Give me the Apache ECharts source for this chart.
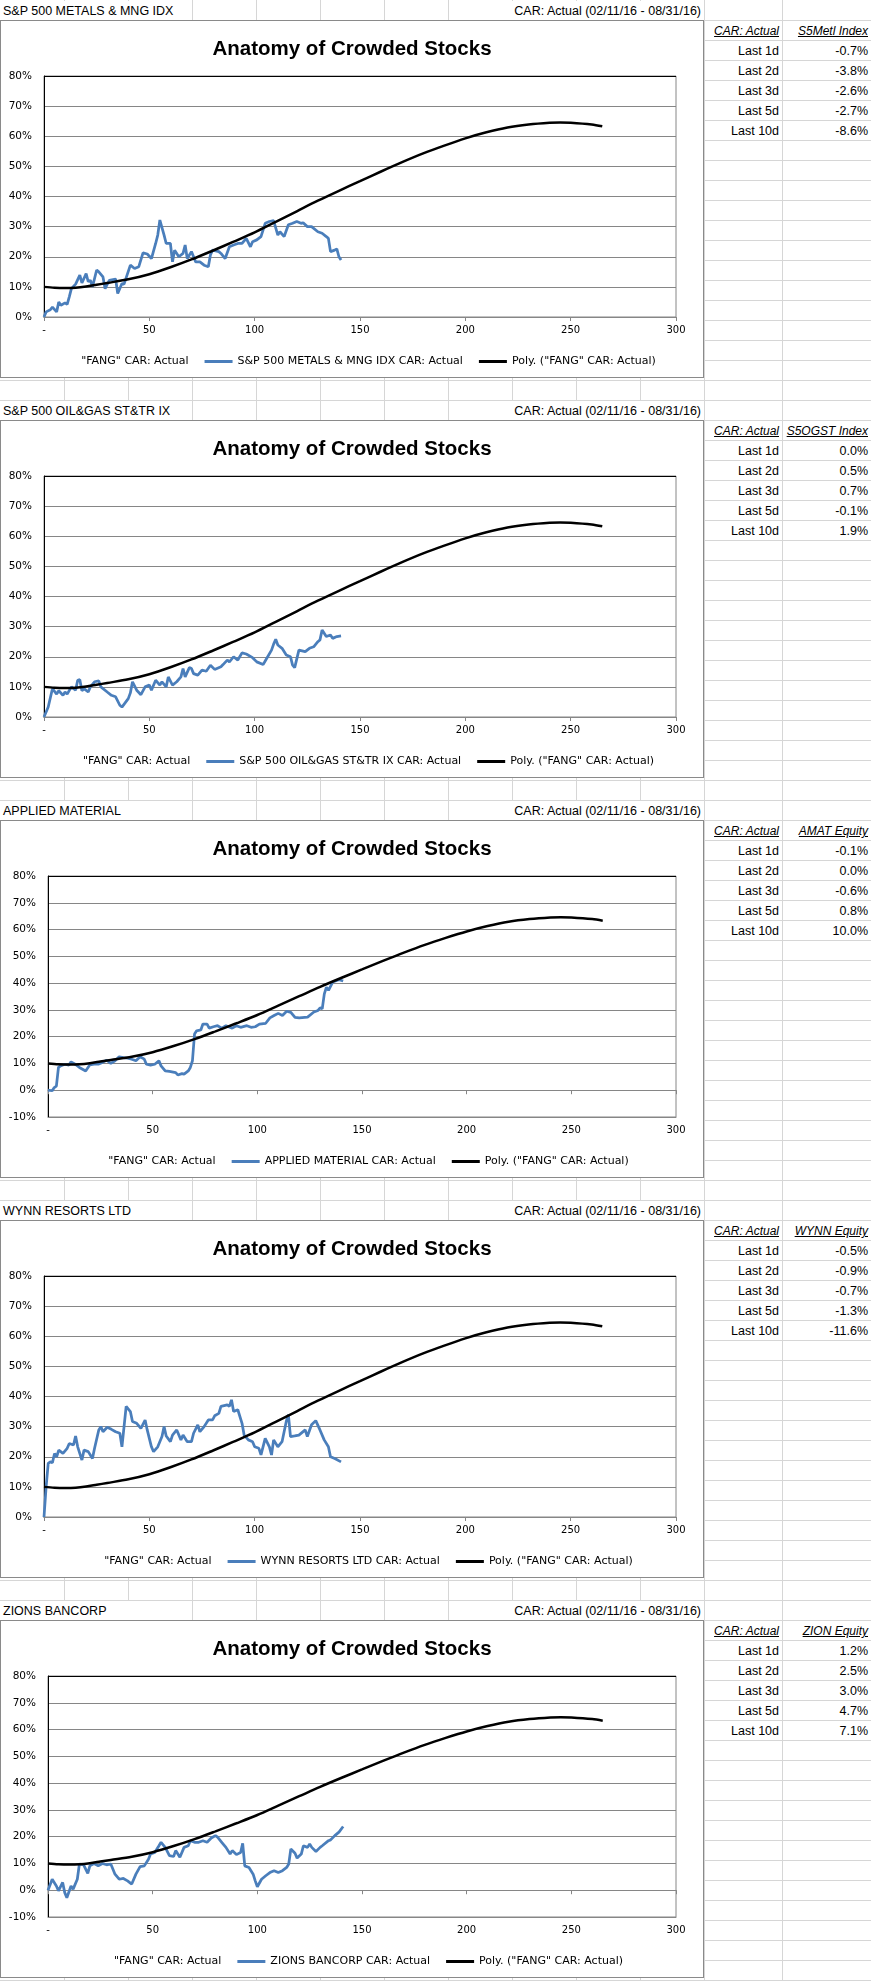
<!DOCTYPE html>
<html>
<head>
<meta charset="utf-8">
<title>Anatomy of Crowded Stocks</title>
<script src="https://cdn.jsdelivr.net/npm/echarts@6.0.0/dist/echarts.min.js"></script>
<style>
  body { margin: 0; background: #fff; }
  #sheet { position: relative; width: 871px; height: 1981px; overflow: hidden;
           font-family: "Liberation Sans", Arial, sans-serif; font-size: 12.5px; color: #000; }
  .gl { position: absolute; background: #d6d6d6; }
  .cell { position: absolute; height: 19px; line-height: 21px; white-space: nowrap; }
  .hdr { background: #fff; }
  .chart { position: absolute; left: 0; width: 704px; height: 358px; box-sizing: border-box;
           border: 1px solid #8a8a8a; background: #fff; }
</style>
</head>
<body>
<div id="sheet"></div>
<script>
// ---- data ----
const chartTitle = 'Anatomy of Crowded Stocks';
const periodText = 'CAR: Actual (02/11/16 - 08/31/16)';
const fangName = '"FANG" CAR: Actual';
const polyName = 'Poly. ("FANG" CAR: Actual)';
const xTickLabels = ['-', '50', '100', '150', '200', '250', '300'];
const lastLabels = ['Last 1d', 'Last 2d', 'Last 3d', 'Last 5d', 'Last 10d'];

const names = ['S&P 500 METALS & MNG IDX', 'S&P 500 OIL&GAS ST&TR IX', 'APPLIED MATERIAL', 'WYNN RESORTS LTD', 'ZIONS BANCORP'];
const tickers = ['S5Metl Index', 'S5OGST Index', 'AMAT Equity', 'WYNN Equity', 'ZION Equity'];
const yMins = [0, 0, -10, 0, -10];

// last-n-day CAR (%)
const metalsLast = [-0.7, -3.8, -2.6, -2.7, -8.6];
const oilLast = [0.0, 0.5, 0.7, -0.1, 1.9];
const amatLast = [-0.1, 0.0, -0.6, 0.8, 10.0];
const wynnLast = [-0.5, -0.9, -0.7, -1.3, -11.6];
const zionLast = [1.2, 2.5, 3.0, 4.7, 7.1];

// polynomial trend of "FANG" CAR (day, %)
const fangPoly = [[0,10],[5,9.7],[10,9.6],[15,9.7],[20,10.1],[25,10.7],[30,11.3],[40,12.5],[50,14.2],[60,16.5],[70,19.1],[80,22],[90,25],[100,28.1],[110,31.6],[120,35.1],[130,38.6],[140,41.9],[150,45.1],[160,48.3],[170,51.4],[180,54.3],[190,56.9],[200,59.3],[210,61.3],[220,62.9],[230,63.9],[240,64.5],[245,64.6],[250,64.5],[260,63.9],[265,63.3]];

// CAR: Actual per stock (day, %)
const metalsCar = [[0,0],[1,1.7],[3,2.4],[4,3.3],[6,1.7],[7,5],[8,3.9],[10,4.7],[11,4.2],[12,6.7],[13,9.4],[15,10.9],[17,13.9],[18,11.3],[20,14.4],[21,11.7],[22,12.2],[23,10],[25,15.6],[26,15],[28,13.3],[29,9.4],[31,12.2],[34,12.6],[35,7.8],[37,11.1],[38,10.9],[41,17.2],[43,16.1],[45,16.7],[47,21.3],[49,20.9],[51,19.4],[53,24.4],[54,27.2],[55,32.2],[57,27.2],[58,24.4],[60,24.4],[61,18.3],[62,22.2],[64,20],[66,21.1],[67,23.9],[68,19.4],[70,21.7],[71,20],[72,18.3],[74,18.3],[76,17.2],[78,16.7],[79,20.6],[80,22.2],[83,21.7],[84,21.1],[86,19.4],[88,23.3],[90,23.9],[92,24.4],[94,24.4],[96,26.1],[98,23.3],[99,25],[101,25.6],[103,26.7],[105,31.1],[107,31.7],[109,32],[111,27.2],[112,28.3],[114,26.7],[116,30.6],[118,31.1],[120,31.7],[122,31.1],[123,31.3],[125,30],[127,30],[130,28.3],[132,27.8],[134,26.7],[135,26.1],[136,21.7],[138,22.2],[139,22.6],[140,20],[141,18.9]];
const oilCar = [[0,0],[2,3.3],[4,9.4],[6,7.6],[7,8.7],[9,7.2],[10,8.3],[11,7.6],[13,10],[15,8.9],[16,12.2],[17,12.4],[18,8.7],[19,9.4],[21,8.3],[22,10],[24,11.7],[26,12],[27,10],[30,8.3],[32,7.2],[34,6.7],[36,3.9],[37,3.3],[40,6.1],[41,8],[42,11.7],[44,8.9],[46,7.4],[48,10],[50,10.6],[51,8.9],[53,12.2],[55,10.6],[56,11.7],[58,10],[59,13.3],[61,10.6],[63,11.7],[65,13.3],[66,16.1],[67,13.3],[69,16.4],[70,16.1],[71,14.4],[73,13.9],[75,15.6],[77,15.2],[79,17.2],[81,15.8],[84,16.7],[85,17.4],[87,18.9],[88,18.3],[90,20],[92,18.9],[94,21.3],[96,20.9],[99,19.7],[101,18.3],[104,17.4],[105,18.6],[108,22.2],[109,24.2],[110,25.8],[111,23.9],[113,22.8],[115,20.6],[117,20],[118,17.2],[119,16.4],[121,22.2],[124,21.7],[126,22.8],[128,23.3],[130,25],[131,25.6],[132,28.9],[134,26.7],[136,27.2],[137,26.1],[139,26.7],[141,26.9]];
const amatCar = [[0,0],[2,-0.2],[3,1],[4,1.5],[5,8.5],[6,9.1],[8,9.7],[10,9.4],[11,10.6],[13,9.7],[15,8.5],[18,7.2],[20,9.5],[22,9.7],[24,9.7],[26,10.4],[28,11.2],[30,10],[32,11],[34,12.5],[36,12.2],[38,12],[40,11.6],[42,11],[44,12.5],[46,11.6],[47,9.7],[49,9.4],[51,9.7],[53,11],[54,9.1],[56,7.2],[58,7],[61,6.6],[62,5.7],[64,6.2],[65,6],[67,7.2],[68,8.5],[69,11],[70,21],[71,22.2],[73,22.5],[74,24.7],[76,24.7],[77,23.2],[79,23.7],[81,24.1],[83,23.2],[85,24.1],[88,23.2],[90,24.1],[92,23.5],[95,24.1],[97,23.5],[99,23.7],[101,24.7],[104,25],[106,27],[108,27.9],[110,28.7],[112,27.9],[114,29.5],[116,29.1],[118,27.2],[120,27],[124,27.3],[127,29.2],[129,29.8],[130,30.8],[131,30.4],[132,36],[133,38.5],[134,37.3],[136,40.4],[138,41],[139,41.3],[141,40.8]];
const wynnCar = [[0,0],[1,10],[2,17.8],[3,18.3],[4,18],[5,21.1],[6,20],[7,22.2],[9,21.1],[11,22.8],[12,24.4],[14,23.9],[15,26.9],[16,23.3],[18,18.9],[19,22.2],[21,21.7],[23,19.4],[24,22.8],[26,28.9],[27,30],[28,28.3],[30,29.8],[32,29.1],[34,28.3],[36,27.8],[37,23.3],[39,36.7],[41,35],[42,31.7],[44,31.1],[46,29.4],[48,32.2],[49,28.9],[51,23.3],[52,21.7],[54,23.3],[56,26.7],[57,30],[58,26.9],[60,25],[61,27.2],[63,28.9],[65,25.6],[66,27.2],[68,25],[70,25],[71,27.8],[73,30.6],[74,28.3],[76,30],[78,32.2],[80,32.2],[81,33.6],[83,34.4],[84,36.7],[87,37.2],[88,36.7],[89,38.9],[90,35],[92,35.6],[94,31.1],[95,27.2],[97,25.6],[99,25],[100,23.3],[102,22.8],[103,20.6],[105,26.1],[107,23.3],[108,20.6],[109,25.6],[111,23.3],[113,25],[115,31.7],[116,34],[117,26.7],[119,26.9],[121,27.2],[124,28.9],[125,26.7],[127,30.6],[129,32],[131,28.9],[133,25.6],[135,23.3],[136,20],[138,19.4],[141,18.3]];
const zionCar = [[0,0],[2,4.1],[4,1.6],[5,-0.2],[7,2.9],[8,-0.9],[9,-2.8],[11,1.6],[12,0.4],[14,4.1],[15,9.8],[17,9.5],[19,6.3],[20,9.1],[22,10],[24,9.1],[26,10],[28,9.5],[30,9.8],[32,6],[34,4.1],[36,4.4],[38,3.5],[40,2.3],[42,6],[44,8.8],[46,9.1],[48,11.6],[49,13.5],[51,14.1],[53,16.6],[54,17.9],[56,16],[58,12.9],[60,12.6],[61,14.8],[63,12.3],[65,16],[67,16.6],[68,18.5],[70,17.9],[72,17.9],[74,18.5],[76,17.9],[78,19.5],[80,20.4],[81,19.8],[83,17.9],[85,16],[87,13.5],[88,14.8],[90,13.3],[92,14.1],[93,17.5],[94,9.1],[96,8.5],[98,6],[99,3.5],[100,1.3],[102,4.1],[104,5.4],[106,6.6],[108,7.3],[110,6.6],[112,7.3],[114,8.5],[115,9.8],[116,15.4],[118,13.8],[119,12],[121,13.5],[122,16.6],[124,16],[125,17.3],[126,16],[128,14.5],[130,16],[131,16.6],[134,18.5],[135,18.8],[137,20.4],[139,21.7],[141,23.8]];

const carSeries = [metalsCar, oilCar, amatCar, wynnCar, zionCar];
const lastValues = [metalsLast, oilLast, amatLast, wynnLast, zionLast];

const blue = '#4a7ebb';
const axisFont = 'DejaVu Sans';
const sheet = document.getElementById('sheet');

function addDiv(cls, css, text) {
    const d = document.createElement('div');
    d.className = cls;
    Object.assign(d.style, css);
    if (text !== undefined) d.textContent = text;
    sheet.appendChild(d);
    return d;
}

// spreadsheet gridlines
function drawSheet() {
    const cols = [64, 128, 192, 256, 320, 384, 448, 512, 576, 640, 704, 782];
    cols.forEach(x => addDiv('gl', { left: x + 'px', top: '0px', width: '1px', height: '1981px' }));
    for (let y = 20; y < 1981; y += 20) {
        addDiv('gl', { left: '0px', top: y + 'px', width: '871px', height: '1px' });
    }
}

function drawPanelCells(i) {
    const top = 400 * i;
    // header row
    addDiv('cell hdr', { left: '1px', top: (top + 1) + 'px', width: '188px', paddingLeft: '2px' }, names[i]);
    addDiv('cell hdr', { left: '449px', top: (top + 1) + 'px', width: '252px', paddingRight: '2px', textAlign: 'right' }, periodText);
    // side table
    const hdrCss = { fontStyle: 'italic', textDecoration: 'underline', fontSize: '12px' };
    addDiv('cell', Object.assign({ left: '705px', top: (top + 21) + 'px', width: '74px', textAlign: 'right' }, hdrCss), 'CAR: Actual');
    addDiv('cell', Object.assign({ left: '784px', top: (top + 21) + 'px', width: '84px', textAlign: 'right' }, hdrCss), tickers[i]);
    lastLabels.forEach((lab, r) => {
        const y = top + 41 + 20 * r;
        addDiv('cell', { left: '705px', top: y + 'px', width: '74px', textAlign: 'right' }, lab);
        addDiv('cell', { left: '784px', top: y + 'px', width: '84px', textAlign: 'right' }, lastValues[i][r].toFixed(1) + '%');
    });
}

function baseOption(i) {
    const yMin = yMins[i];
    const lineCount = (80 - yMin) / 10 + 1;
    const splitColors = [];
    for (let k = 0; k < lineCount - 1; k++) splitColors.push('#868686');
    splitColors.push('#000');
    const carName = names[i] + ' CAR: Actual';
    return {
        animation: false,
        title: {
            text: chartTitle,
            left: 'center',
            top: 13,
            textStyle: { fontFamily: 'Liberation Sans', fontWeight: 'bold', fontSize: 20.5, color: '#000' }
        },
        grid: {
            left: yMin < 0 ? 47 : 43, right: 27, top: 55, bottom: 60,
            show: true, borderColor: '#868686', borderWidth: 1
        },
        legend: {
            top: 330,
            left: 'center',
            itemWidth: 28,
            itemHeight: 3,
            itemGap: 16,
            selectedMode: false,
            textStyle: { fontFamily: axisFont, fontSize: 11, color: '#000' },
            data: [
                { name: fangName, icon: 'none' },
                { name: carName, icon: 'rect' },
                { name: polyName, icon: 'rect' }
            ]
        },
        xAxis: [
            {
                type: 'value', min: 0, max: 300, interval: 50,
                axisLine: { onZero: false, lineStyle: { color: '#868686' } },
                axisTick: { show: false },
                splitLine: { show: false },
                axisLabel: {
                    margin: 8, fontFamily: axisFont, fontSize: 10, color: '#000',
                    formatter: v => xTickLabels[Math.round(v / 50)]
                }
            },
            {
                type: 'value', min: 0, max: 300, interval: 50, position: 'bottom',
                axisLine: { onZero: true, lineStyle: { color: '#868686' } },
                axisTick: { show: true, length: 4, lineStyle: { color: '#868686' } },
                splitLine: { show: false },
                axisLabel: { show: false }
            }
        ],
        yAxis: {
            type: 'value', min: yMin, max: 80, interval: 10,
            axisLine: { show: true, lineStyle: { color: '#000' } },
            axisTick: { show: false },
            axisLabel: { margin: 12, fontFamily: axisFont, fontSize: 10.5, color: '#000', formatter: '{value}%' },
            splitLine: { show: true, lineStyle: { color: splitColors, width: 1 } }
        },
        series: [
            { name: fangName, type: 'line', data: [], itemStyle: { color: '#fff' } },
            {
                name: carName, type: 'line', data: carSeries[i],
                symbol: 'none', showSymbol: false,
                lineStyle: { color: blue, width: 2.75 },
                itemStyle: { color: blue }
            },
            {
                name: polyName, type: 'line', data: fangPoly,
                smooth: 0.3, symbol: 'none', showSymbol: false,
                lineStyle: { color: '#000', width: 2.5 },
                itemStyle: { color: '#000' }
            }
        ]
    };
}

function drawLine(i) {
    const el = addDiv('chart', { top: (400 * i + 20) + 'px' });
    const myChart = echarts.init(el, null, { renderer: 'canvas' });
    myChart.setOption(baseOption(i));
}

drawSheet();
for (let i = 0; i < names.length; i++) {
    drawPanelCells(i);
    drawLine(i);
}
</script>
</body>
</html>
